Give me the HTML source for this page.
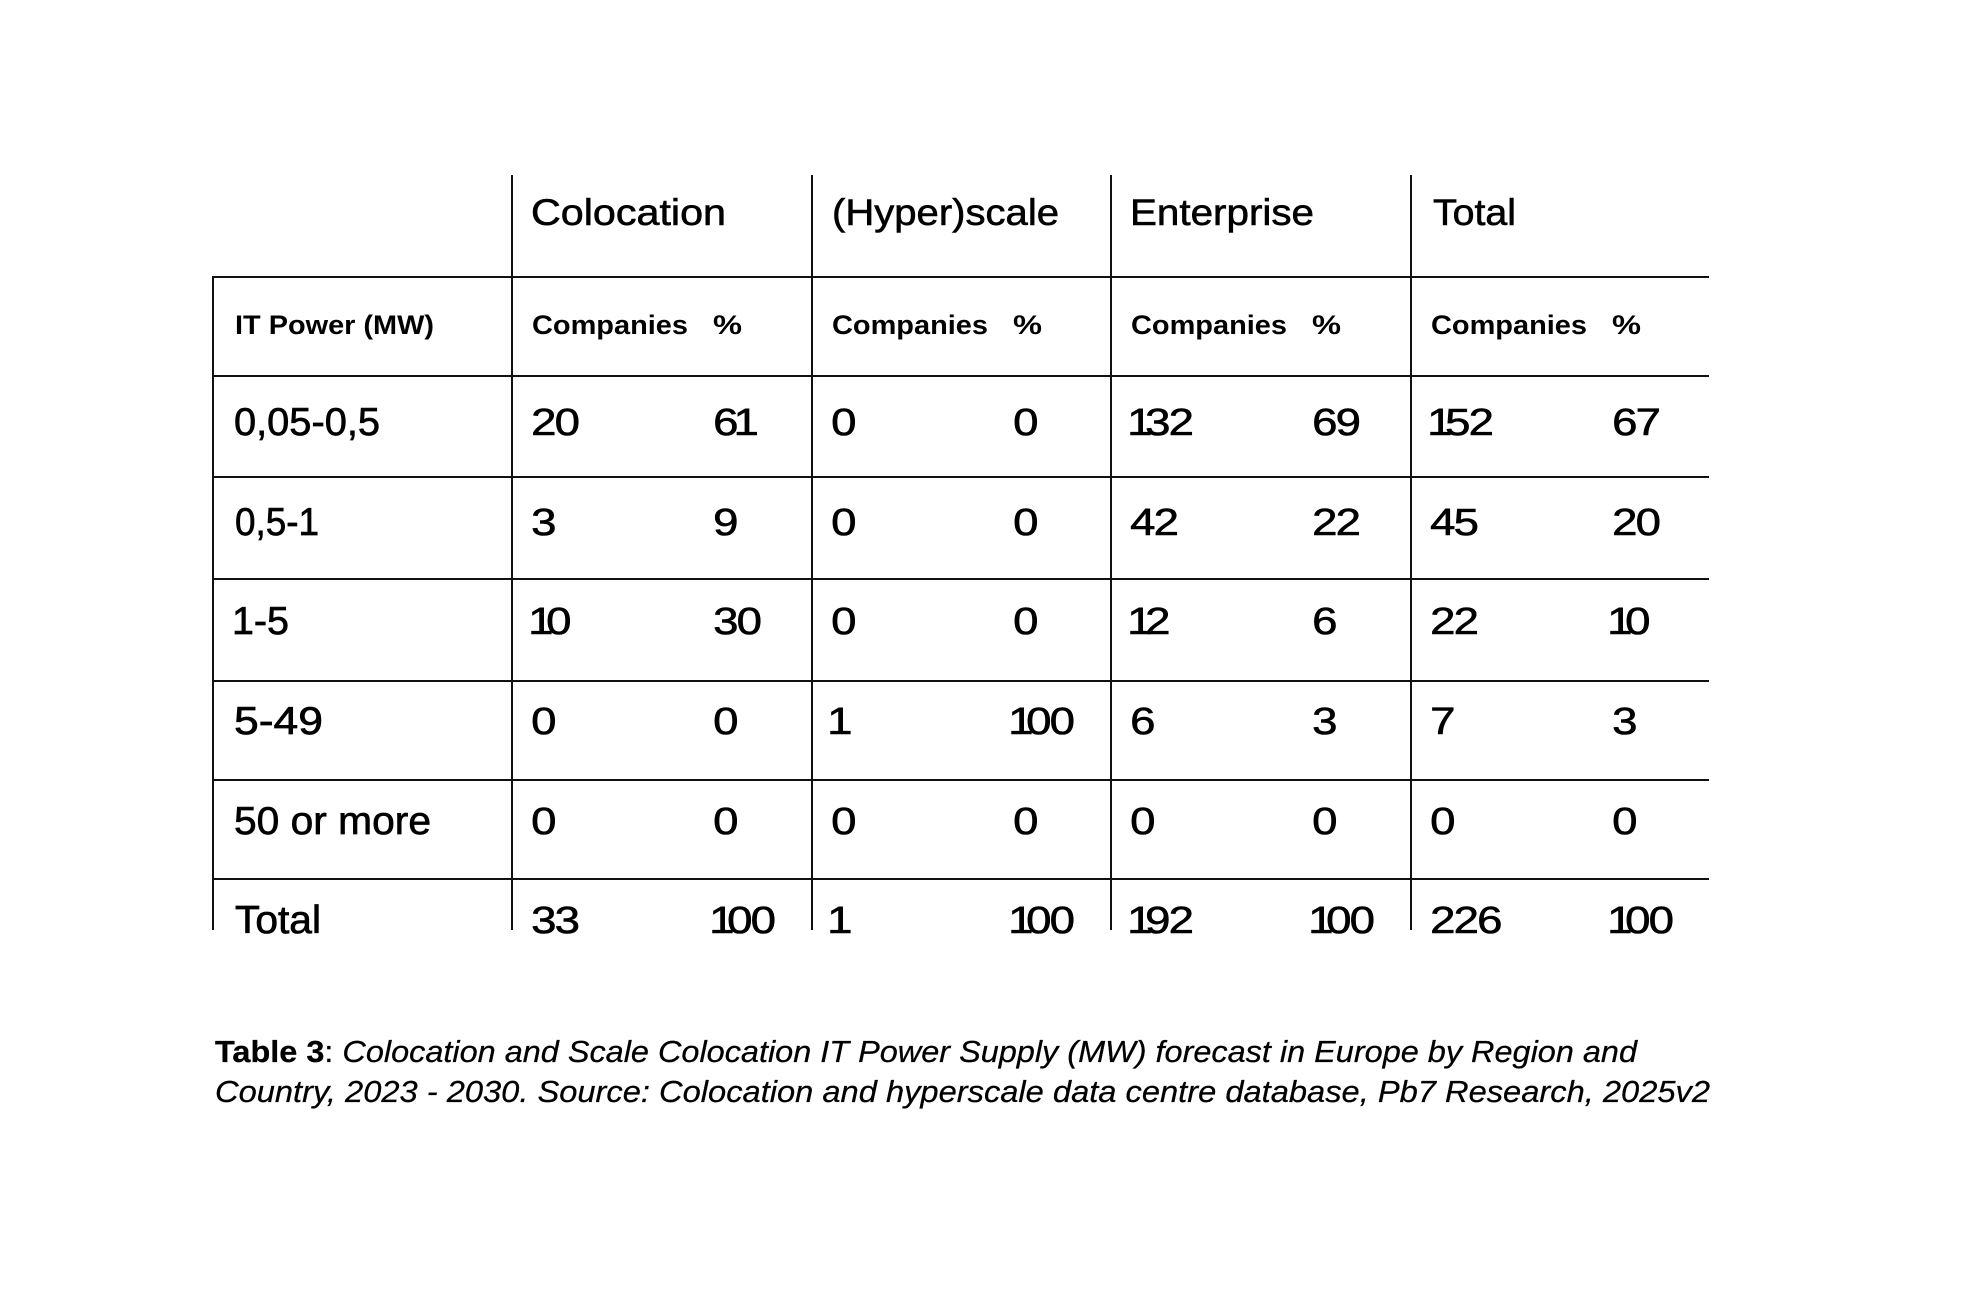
<!DOCTYPE html>
<html>
<head>
<meta charset="utf-8">
<style>
  html, body { margin: 0; padding: 0; background: #ffffff; }
  body { width: 1963px; height: 1294px; overflow: hidden; }
  svg { display: block; }
  text { font-family: "Liberation Sans", Arial, sans-serif; fill: #000; }
  .h { font-size: 37px; stroke: #000; stroke-width: 0.6px; }
  .s { font-size: 27px; font-weight: bold; }
  .d { font-size: 39px; stroke: #000; stroke-width: 0.7px; }
  .n { font-size: 38px; stroke: #000; stroke-width: 0.6px; }
  .c { font-size: 31px; stroke: #000; stroke-width: 0.25px; }
</style>
</head>
<body>
<svg width="1963" height="1294" viewBox="0 0 1963 1294" xmlns="http://www.w3.org/2000/svg">
  <rect width="1963" height="1294" fill="#ffffff"/>
  <g stroke="#111" stroke-width="2" fill="none">
    <line x1="213" y1="277" x2="1709" y2="277"/>
    <line x1="213" y1="376" x2="1709" y2="376"/>
    <line x1="213" y1="477" x2="1709" y2="477"/>
    <line x1="213" y1="579" x2="1709" y2="579"/>
    <line x1="213" y1="681" x2="1709" y2="681"/>
    <line x1="213" y1="780" x2="1709" y2="780"/>
    <line x1="213" y1="879" x2="1709" y2="879"/>
    <line x1="213" y1="276" x2="213" y2="930"/>
    <line x1="512" y1="175" x2="512" y2="930"/>
    <line x1="812" y1="175" x2="812" y2="930"/>
    <line x1="1111" y1="175" x2="1111" y2="930"/>
    <line x1="1411" y1="175" x2="1411" y2="930"/>
  </g>

  <!-- Header row -->
  <text class="h" x="531" y="225" textLength="195" lengthAdjust="spacingAndGlyphs">Colocation</text>
  <text class="h" x="832" y="225" textLength="227" lengthAdjust="spacingAndGlyphs">(Hyper)scale</text>
  <text class="h" x="1130" y="225" textLength="184" lengthAdjust="spacingAndGlyphs">Enterprise</text>
  <text class="h" x="1433" y="225" textLength="83" lengthAdjust="spacingAndGlyphs">Total</text>

  <!-- Sub header row -->
  <text class="s" x="235" y="334" textLength="199" lengthAdjust="spacingAndGlyphs">IT Power (MW)</text>
  <text class="s" x="532" y="334" textLength="156" lengthAdjust="spacingAndGlyphs">Companies</text>
  <text class="s" x="713" y="334" textLength="29" lengthAdjust="spacingAndGlyphs">%</text>
  <text class="s" x="832" y="334" textLength="156" lengthAdjust="spacingAndGlyphs">Companies</text>
  <text class="s" x="1013" y="334" textLength="29" lengthAdjust="spacingAndGlyphs">%</text>
  <text class="s" x="1131" y="334" textLength="156" lengthAdjust="spacingAndGlyphs">Companies</text>
  <text class="s" x="1312" y="334" textLength="29" lengthAdjust="spacingAndGlyphs">%</text>
  <text class="s" x="1431" y="334" textLength="156" lengthAdjust="spacingAndGlyphs">Companies</text>
  <text class="s" x="1612" y="334" textLength="29" lengthAdjust="spacingAndGlyphs">%</text>

  <!-- Row labels -->
  <text class="d" x="234" y="435" textLength="146" lengthAdjust="spacingAndGlyphs">0,05-0,5</text>
  <text class="d" x="235" y="535" textLength="84" lengthAdjust="spacingAndGlyphs">0,5-1</text>
  <text class="d" x="232" y="634" textLength="57" lengthAdjust="spacingAndGlyphs">1-5</text>
  <text class="d" x="234" y="734" textLength="89" lengthAdjust="spacingAndGlyphs">5-49</text>
  <text class="d" x="234" y="834" textLength="197" lengthAdjust="spacingAndGlyphs">50 or more</text>
  <text class="d" x="235" y="933" textLength="86" lengthAdjust="spacingAndGlyphs">Total</text>

  <!-- Row 1: 0,05-0,5 -->
  <text class="n" transform="translate(533,435) scale(1.2,1)" x="-1.6 18" y="0">20</text>
  <text class="n" transform="translate(715,435) scale(1.2,1)" x="-1.6 15.4" y="0">61</text>
  <text class="n" transform="translate(833,435) scale(1.2,1)" x="-1.6" y="0">0</text>
  <text class="n" transform="translate(1015,435) scale(1.2,1)" x="-1.6" y="0">0</text>
  <text class="n" transform="translate(1132,435) scale(1.2,1)" x="-4.1 10.9 30.5" y="0">132</text>
  <text class="n" transform="translate(1314,435) scale(1.2,1)" x="-1.6 18" y="0">69</text>
  <text class="n" transform="translate(1432,435) scale(1.2,1)" x="-4.1 10.9 30.5" y="0">152</text>
  <text class="n" transform="translate(1614,435) scale(1.2,1)" x="-1.6 18" y="0">67</text>

  <!-- Row 2: 0,5-1 -->
  <text class="n" transform="translate(533,535) scale(1.2,1)" x="-1.6" y="0">3</text>
  <text class="n" transform="translate(715,535) scale(1.2,1)" x="-1.6" y="0">9</text>
  <text class="n" transform="translate(833,535) scale(1.2,1)" x="-1.6" y="0">0</text>
  <text class="n" transform="translate(1015,535) scale(1.2,1)" x="-1.6" y="0">0</text>
  <text class="n" transform="translate(1132,535) scale(1.2,1)" x="-1.6 18" y="0">42</text>
  <text class="n" transform="translate(1314,535) scale(1.2,1)" x="-1.6 18" y="0">22</text>
  <text class="n" transform="translate(1432,535) scale(1.2,1)" x="-1.6 18" y="0">45</text>
  <text class="n" transform="translate(1614,535) scale(1.2,1)" x="-1.6 18" y="0">20</text>

  <!-- Row 3: 1-5 -->
  <text class="n" transform="translate(533,634) scale(1.2,1)" x="-4.1 10.9" y="0">10</text>
  <text class="n" transform="translate(715,634) scale(1.2,1)" x="-1.6 18" y="0">30</text>
  <text class="n" transform="translate(833,634) scale(1.2,1)" x="-1.6" y="0">0</text>
  <text class="n" transform="translate(1015,634) scale(1.2,1)" x="-1.6" y="0">0</text>
  <text class="n" transform="translate(1132,634) scale(1.2,1)" x="-4.1 10.9" y="0">12</text>
  <text class="n" transform="translate(1314,634) scale(1.2,1)" x="-1.6" y="0">6</text>
  <text class="n" transform="translate(1432,634) scale(1.2,1)" x="-1.6 18" y="0">22</text>
  <text class="n" transform="translate(1612,634) scale(1.2,1)" x="-4.1 10.9" y="0">10</text>

  <!-- Row 4: 5-49 -->
  <text class="n" transform="translate(533,734) scale(1.2,1)" x="-1.6" y="0">0</text>
  <text class="n" transform="translate(715,734) scale(1.2,1)" x="-1.6" y="0">0</text>
  <text class="n" transform="translate(832,734) scale(1.2,1)" x="-4.1" y="0">1</text>
  <text class="n" transform="translate(1013,734) scale(1.2,1)" x="-4.1 10.9 30.5" y="0">100</text>
  <text class="n" transform="translate(1132,734) scale(1.2,1)" x="-1.6" y="0">6</text>
  <text class="n" transform="translate(1314,734) scale(1.2,1)" x="-1.6" y="0">3</text>
  <text class="n" transform="translate(1432,734) scale(1.2,1)" x="-1.6" y="0">7</text>
  <text class="n" transform="translate(1614,734) scale(1.2,1)" x="-1.6" y="0">3</text>

  <!-- Row 5: 50 or more -->
  <text class="n" transform="translate(533,834) scale(1.2,1)" x="-1.6" y="0">0</text>
  <text class="n" transform="translate(715,834) scale(1.2,1)" x="-1.6" y="0">0</text>
  <text class="n" transform="translate(833,834) scale(1.2,1)" x="-1.6" y="0">0</text>
  <text class="n" transform="translate(1015,834) scale(1.2,1)" x="-1.6" y="0">0</text>
  <text class="n" transform="translate(1132,834) scale(1.2,1)" x="-1.6" y="0">0</text>
  <text class="n" transform="translate(1314,834) scale(1.2,1)" x="-1.6" y="0">0</text>
  <text class="n" transform="translate(1432,834) scale(1.2,1)" x="-1.6" y="0">0</text>
  <text class="n" transform="translate(1614,834) scale(1.2,1)" x="-1.6" y="0">0</text>

  <!-- Row 6: Total -->
  <text class="n" transform="translate(533,933) scale(1.2,1)" x="-1.6 18" y="0">33</text>
  <text class="n" transform="translate(714,933) scale(1.2,1)" x="-4.1 10.9 30.5" y="0">100</text>
  <text class="n" transform="translate(832,933) scale(1.2,1)" x="-4.1" y="0">1</text>
  <text class="n" transform="translate(1013,933) scale(1.2,1)" x="-4.1 10.9 30.5" y="0">100</text>
  <text class="n" transform="translate(1132,933) scale(1.2,1)" x="-4.1 10.9 30.5" y="0">192</text>
  <text class="n" transform="translate(1313,933) scale(1.2,1)" x="-4.1 10.9 30.5" y="0">100</text>
  <text class="n" transform="translate(1432,933) scale(1.2,1)" x="-1.6 18 37.6" y="0">226</text>
  <text class="n" transform="translate(1612,933) scale(1.2,1)" x="-4.1 10.9 30.5" y="0">100</text>

  <!-- Caption -->
  <text class="c" x="215" y="1062" textLength="1422" lengthAdjust="spacingAndGlyphs"><tspan font-weight="bold">Table 3</tspan><tspan>: </tspan><tspan font-style="italic">Colocation and Scale Colocation IT Power Supply (MW) forecast in Europe by Region and</tspan></text>
  <text class="c" x="215" y="1102" textLength="1495" lengthAdjust="spacingAndGlyphs" font-style="italic">Country, 2023 - 2030. Source: Colocation and hyperscale data centre database, Pb7 Research, 2025v2</text>
</svg>
</body>
</html>
